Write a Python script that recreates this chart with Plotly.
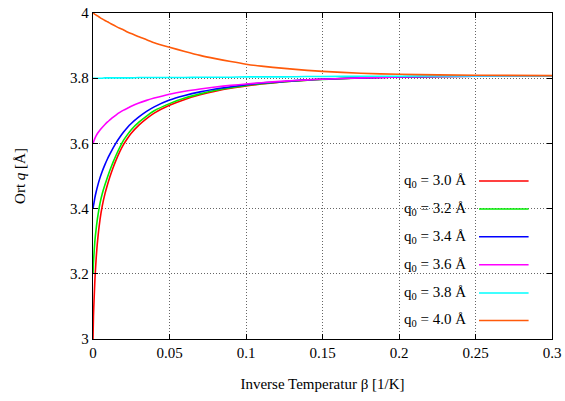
import plotly.graph_objects as go

# inverse temperature sample points [1/K]
beta = [0.0, 0.0003, 0.0007, 0.0013, 0.002, 0.003, 0.0046, 0.006, 0.0078, 0.0095,
        0.011, 0.013, 0.015, 0.0175, 0.02, 0.0225, 0.025, 0.03, 0.035, 0.04,
        0.05, 0.06, 0.07, 0.08, 0.09, 0.1, 0.11, 0.125, 0.14, 0.15,
        0.175, 0.2, 0.25, 0.3]

# mean position q [Å] for each start value q0
q_30 = [3.000, 3.070, 3.120, 3.187, 3.242, 3.302, 3.367, 3.407, 3.445, 3.474,
        3.497, 3.524, 3.548, 3.575, 3.597, 3.615, 3.631, 3.656, 3.676, 3.693,
        3.717, 3.735, 3.749, 3.760, 3.769, 3.776, 3.782, 3.789, 3.794, 3.797,
        3.801, 3.804, 3.806, 3.807]
q_32 = [3.200, 3.235, 3.264, 3.304, 3.335, 3.372, 3.417, 3.445, 3.473, 3.497,
        3.517, 3.541, 3.563, 3.588, 3.610, 3.627, 3.642, 3.665, 3.684, 3.700,
        3.722, 3.739, 3.752, 3.763, 3.771, 3.778, 3.783, 3.789, 3.794, 3.796,
        3.801, 3.804, 3.806, 3.807]
q_34 = [3.400, 3.409, 3.419, 3.435, 3.450, 3.469, 3.495, 3.514, 3.535, 3.553,
        3.567, 3.585, 3.601, 3.619, 3.635, 3.649, 3.661, 3.681, 3.698, 3.712,
        3.733, 3.747, 3.758, 3.767, 3.774, 3.780, 3.785, 3.790, 3.795, 3.797,
        3.801, 3.804, 3.806, 3.807]
q_36 = [3.600, 3.604, 3.609, 3.616, 3.623, 3.631, 3.641, 3.649, 3.658, 3.666,
        3.672, 3.680, 3.687, 3.695, 3.702, 3.708, 3.714, 3.724, 3.732, 3.739,
        3.751, 3.760, 3.767, 3.773, 3.778, 3.782, 3.786, 3.791, 3.795, 3.797,
        3.801, 3.804, 3.806, 3.807]
q_38 = [3.800, 3.800, 3.800, 3.800, 3.800, 3.800, 3.800, 3.800, 3.801, 3.801,
        3.801, 3.801, 3.801, 3.801, 3.801, 3.801, 3.801, 3.802, 3.802, 3.802,
        3.802, 3.802, 3.803, 3.803, 3.803, 3.804, 3.804, 3.804, 3.805, 3.805,
        3.806, 3.806, 3.807, 3.807]
q_40 = [4.000, 3.999, 3.998, 3.996, 3.994, 3.991, 3.986, 3.982, 3.977, 3.973,
        3.969, 3.964, 3.959, 3.953, 3.948, 3.942, 3.937, 3.927, 3.918, 3.909,
        3.895, 3.882, 3.870, 3.860, 3.851, 3.843, 3.837, 3.830, 3.824, 3.821,
        3.815, 3.812, 3.809, 3.808]

series = [q_30, q_32, q_34, q_36, q_38, q_40]
labels = ["q<sub>0</sub> = 3.0 Å", "q<sub>0</sub> = 3.2 Å", "q<sub>0</sub> = 3.4 Å",
          "q<sub>0</sub> = 3.6 Å", "q<sub>0</sub> = 3.8 Å", "q<sub>0</sub> = 4.0 Å"]
colors = ["#ff0000", "#00ee00", "#0000ff", "#ff00ff", "#00ffff", "#ff5a0a"]

FONT = "Liberation Serif, Times New Roman, serif"

fig = go.Figure()
for ys, name, col in zip(series, labels, colors):
    fig.add_trace(go.Scatter(x=beta, y=ys, mode="lines", name=name,
                             line=dict(color=col, width=1.6, shape="spline", smoothing=0.6),
                             showlegend=False))

# key: text on the left, line sample on the right
row_y = [0.485, 0.399, 0.314, 0.228, 0.141, 0.057]
for name, col, yy in zip(labels, colors, row_y):
    fig.add_annotation(xref="paper", yref="paper", x=0.818, y=yy, text=name,
                       showarrow=False, xanchor="right", yanchor="middle",
                       font=dict(family=FONT, size=15, color="black"))
    fig.add_shape(type="line", xref="paper", yref="paper", x0=0.841, x1=0.949,
                  y0=yy, y1=yy, line=dict(color=col, width=1.5))

axis_common = dict(showline=True, linecolor="black", linewidth=1.3, mirror="ticks",
                   ticks="inside", ticklen=5, tickcolor="black", automargin=False,
                   showgrid=True, gridcolor="#666666", gridwidth=1, griddash="1px,2px",
                   zeroline=False, tickfont=dict(family=FONT, size=15, color="black"))

fig.update_xaxes(range=[0, 0.3], dtick=0.05, tickformat="~g",
                 title=dict(text="Inverse Temperatur β [1/K]", standoff=18,
                            font=dict(family=FONT, size=15, color="black")),
                 **axis_common)
fig.update_yaxes(range=[3, 4], dtick=0.2, tickformat="~g",
                 title=dict(text="Ort <i>q</i> [Å]", standoff=40,
                            font=dict(family=FONT, size=15, color="black")),
                 **axis_common)

fig.update_layout(width=565, height=401, margin=dict(l=93, r=13, t=13, b=62),
                  plot_bgcolor="white", paper_bgcolor="white",
                  font=dict(family=FONT, size=15, color="black"))

fig.write_html("out.html")
